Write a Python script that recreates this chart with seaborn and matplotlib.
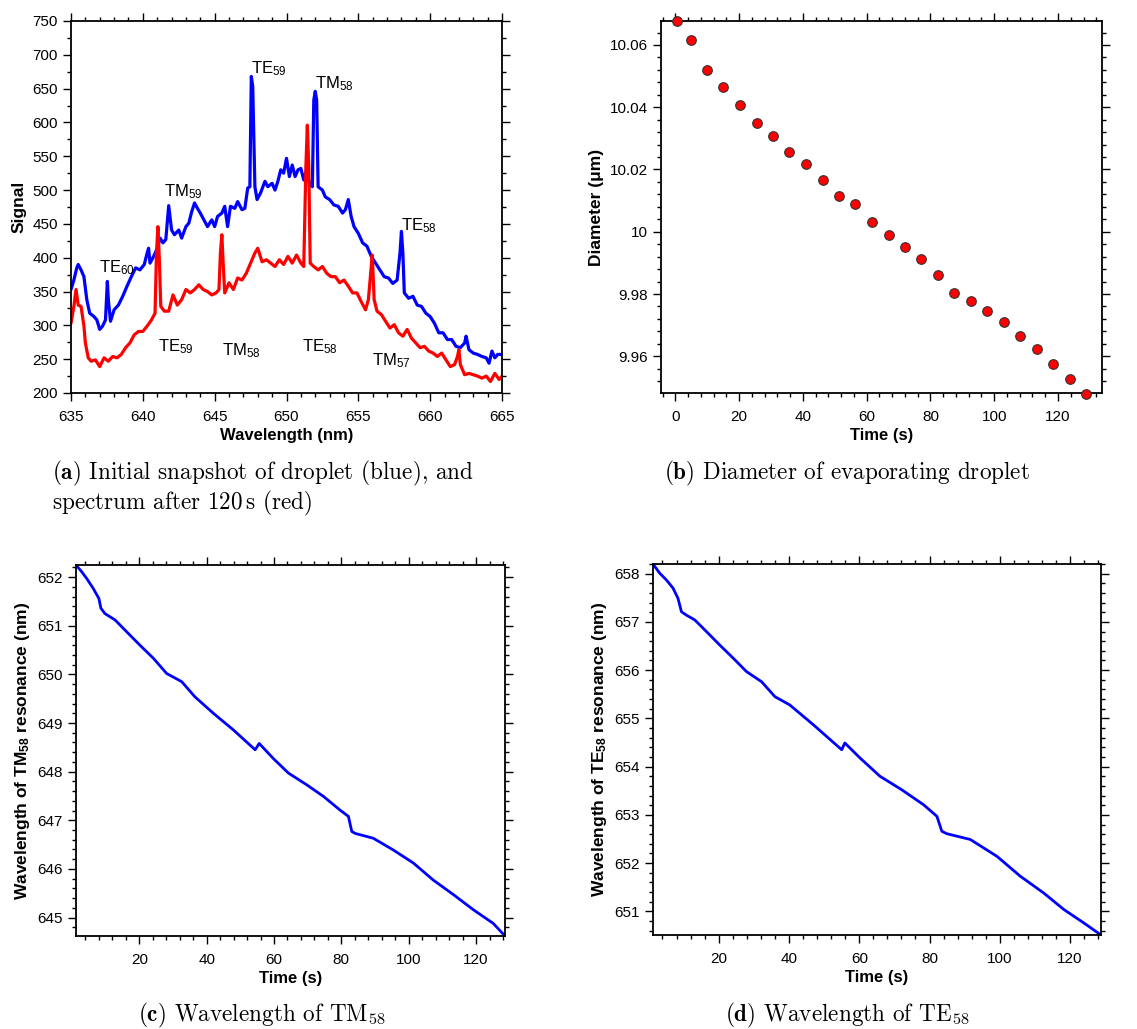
import numpy as np
import pandas as pd
import matplotlib
matplotlib.use("Agg")
import matplotlib.pyplot as plt
from matplotlib.ticker import MultipleLocator, FormatStrFormatter
import seaborn as sns

# ---------------- data ----------------
blue_wl = [635.0,635.2,635.4,635.5,635.7,635.9,636.1,636.3,636.6,636.8,637.0,637.2,637.4,637.53,637.6,637.75,638.0,638.3,638.6,638.9,
           639.2,639.5,639.8,640.1,640.3,640.4,640.5,640.8,641.0,641.2,641.4,641.6,641.8,642.0,642.2,642.5,642.7,643.0,643.2,643.4,
           643.6,643.8,644.0,644.3,644.5,644.8,645.0,645.2,645.5,645.7,645.9,646.1,646.4,646.6,646.9,647.1,647.3,647.45,647.55,647.65,
           647.8,647.95,648.2,648.5,648.7,649.0,649.2,649.4,649.6,649.8,650.0,650.2,650.4,650.6,650.8,651.0,651.2,651.4,651.6,651.8,
           651.9,652.0,652.1,652.2,652.5,652.7,653.0,653.3,653.6,653.9,654.1,654.3,654.5,654.7,655.0,655.3,655.6,655.9,656.2,656.5,
           656.8,657.1,657.4,657.7,657.9,658.0,658.1,658.2,658.5,658.8,659.1,659.4,659.7,660.0,660.3,660.6,660.9,661.2,661.5,661.8,
           662.1,662.4,662.5,662.7,663.0,663.3,663.6,663.9,664.1,664.3,664.5,664.7,665.0]
blue_sig = [353,367,385,390,382,372,338,318,313,308,294,299,308,365,338,306,323,330,343,358,
            372,385,382,390,407,414,392,404,414,429,422,427,477,441,434,441,429,446,451,468,
            481,473,466,454,446,456,446,461,466,476,446,476,473,483,471,473,503,505,668,653,
            505,486,496,513,505,510,500,513,530,525,547,520,537,520,530,532,515,530,510,505,
            633,646,633,505,500,490,486,478,476,466,471,486,461,446,436,422,417,402,392,382,
            372,370,362,367,407,439,407,348,340,343,330,328,318,313,303,289,289,279,279,269,
            267,274,284,264,259,257,254,252,244,262,252,257,257]

red_wl = [635.0,635.2,635.35,635.5,635.7,635.9,636.0,636.2,636.4,636.7,637.0,637.3,637.6,637.9,638.2,638.5,638.8,639.1,639.4,639.7,
          640.0,640.3,640.6,640.85,640.95,641.05,641.15,641.25,641.5,641.8,642.1,642.4,642.7,643.0,643.3,643.6,643.9,644.2,644.5,644.8,
          645.1,645.3,645.4,645.5,645.6,645.7,646.0,646.3,646.6,646.9,647.2,647.5,647.8,648.0,648.3,648.6,648.9,649.2,649.5,649.8,
          650.1,650.4,650.7,651.0,651.2,651.35,651.45,651.55,651.65,651.9,652.2,652.5,652.8,653.1,653.4,653.7,654.0,654.3,654.6,654.9,
          655.2,655.5,655.7,655.9,655.97,656.1,656.3,656.6,656.9,657.2,657.5,657.8,658.1,658.4,658.7,659.0,659.3,659.6,659.9,660.2,
          660.5,660.8,661.1,661.4,661.7,661.9,662.0,662.1,662.4,662.7,663.0,663.3,663.6,663.9,664.2,664.5,664.8,665.0]
red_sig = [303,328,353,330,328,299,274,252,247,249,239,252,247,254,252,257,267,274,286,291,
           291,299,308,318,407,446,397,328,321,321,345,330,338,353,348,353,360,353,350,345,
           348,353,407,434,388,348,363,353,370,367,377,392,407,414,394,397,392,387,397,390,
           402,392,404,392,387,535,596,535,392,387,382,387,377,372,372,363,367,358,348,348,
           335,323,338,387,404,338,321,316,306,296,301,289,284,294,281,274,267,269,262,259,
           254,259,249,239,242,254,264,242,227,229,227,225,222,225,217,229,220,225]

ann_text = ["TE$_{59}$", "TM$_{58}$", "TM$_{59}$", "TE$_{60}$", "TE$_{58}$",
            "TE$_{59}$", "TM$_{58}$", "TE$_{58}$", "TM$_{57}$"]
ann_x = [647.52, 651.97, 641.47, 636.97, 657.98, 641.07, 645.48, 651.11, 655.96]
ann_y = [680, 658, 498, 385, 447, 269, 263, 269, 248]

diam_t = [0.63,4.8,9.9,15.05,20.4,25.5,30.6,35.7,41.1,46.2,51.2,56.4,61.8,66.9,71.9,77.0,
          82.4,87.5,92.6,97.7,103.1,108.2,113.3,118.4,123.7,128.8]
diam_d = [10.0676,10.0616,10.0520,10.0466,10.0407,10.0349,10.0309,10.0257,10.0218,10.0166,
          10.0114,10.0088,10.0032,9.9988,9.9951,9.9911,9.9862,9.9804,9.9779,9.9746,9.9710,
          9.9665,9.9622,9.9576,9.9526,9.9480]

tm_t = [1.2,2.9,4.4,6.3,8.0,8.6,9.8,12.8,16.2,20.2,24.2,28.1,32.6,36.5,42.0,47.9,54.4,55.6,
        59.8,64.3,69.7,74.7,79.6,82.1,83.1,84.1,89.5,95.4,101.4,107.3,113.3,119.2,125.1,128.6]
tm_wl = [652.25,652.11,651.97,651.77,651.56,651.36,651.25,651.12,650.88,650.60,650.33,650.02,
         649.85,649.54,649.20,648.86,648.45,648.58,648.27,647.97,647.73,647.49,647.21,647.08,
         646.77,646.73,646.63,646.39,646.12,645.77,645.47,645.16,644.88,644.62]

te_t = [1.3,3.2,5.1,7.0,8.4,9.4,10.8,13.2,16.5,20.3,24.1,27.9,32.2,36.0,40.2,46.9,55.0,55.9,
        60.2,65.9,72.1,78.3,82.1,83.5,84.9,91.6,99.2,105.8,112.5,118.2,123.9,128.8]
te_wl = [658.20,658.01,657.87,657.70,657.49,657.21,657.14,657.04,656.80,656.52,656.25,655.97,
         655.76,655.45,655.28,654.87,654.35,654.49,654.18,653.80,653.52,653.21,652.97,652.66,
         652.61,652.49,652.14,651.73,651.38,651.04,650.76,650.51]

# ---------------- style ----------------
sns.set_theme(style="ticks")
plt.rcParams["font.family"] = ["Liberation Sans", "DejaVu Sans"]
plt.rcParams["mathtext.fontset"] = "custom"
plt.rcParams["mathtext.rm"] = "Liberation Sans"
plt.rcParams["mathtext.it"] = "Liberation Sans:italic"
plt.rcParams["mathtext.bf"] = "Liberation Sans:bold"
for k in ["text.color", "axes.labelcolor", "xtick.color", "ytick.color", "axes.edgecolor"]:
    plt.rcParams[k] = "black"

W, H = 1137, 1029
fig = plt.figure(figsize=(W / 100, H / 100), dpi=100)

def axes_px(l, r, t, b):
    return fig.add_axes([l / W, 1 - b / H, (r - l) / W, (b - t) / H])

TICK = 11
XLAB = 12
YLAB = 12.5

def style(ax):
    for s in ax.spines.values():
        s.set_linewidth(1.3)
        s.set_color("black")
        s.set_visible(True)
    ax.tick_params(which="both", direction="out", top=True, right=True,
                   colors="black", width=1.0, labelsize=TICK)
    ax.tick_params(which="major", length=5.8)
    ax.tick_params(which="minor", length=3.1)
    ax.tick_params(axis="x", which="major", pad=6.5)
    ax.tick_params(axis="y", which="major", pad=3.5)
    ax.set_facecolor("white")
    ax.grid(False)

# (a) spectrum
axa = axes_px(71, 502, 21, 393)
df_b = pd.DataFrame({"wl": blue_wl, "sig": blue_sig})
df_r = pd.DataFrame({"wl": red_wl, "sig": red_sig})
sns.lineplot(data=df_b, x="wl", y="sig", ax=axa, color="#0000ff", lw=2.3,
             estimator=None, sort=False)
sns.lineplot(data=df_r, x="wl", y="sig", ax=axa, color="#ff0000", lw=2.3,
             estimator=None, sort=False)
axa.set_xlim(635, 665)
axa.set_ylim(200, 750)
axa.xaxis.set_major_locator(MultipleLocator(5))
axa.xaxis.set_minor_locator(MultipleLocator(1))
axa.yaxis.set_major_locator(MultipleLocator(50))
axa.yaxis.set_minor_locator(MultipleLocator(25))
style(axa)
for t, x, y in zip(ann_text, ann_x, ann_y):
    axa.text(x, y, t, fontsize=12, ha="left", va="center", color="black")
axa.set_xlabel("Wavelength (nm)", fontsize=XLAB, fontweight="bold", labelpad=2.5)
axa.set_ylabel("Signal", fontsize=YLAB, fontweight="bold", labelpad=4)

# (b) diameter
axb = axes_px(661, 1102, 21, 393)
df_d = pd.DataFrame({"t": diam_t, "d": diam_d})
sns.scatterplot(data=df_d, x="t", y="d", ax=axb, color="#ff0000", s=48,
                edgecolor="#333333", linewidth=0.8, zorder=5)
for c in axb.collections:
    c.set_clip_on(False)
axb.set_xlim(-4.5, 133.8)
axb.set_ylim(9.9482, 10.0677)
axb.xaxis.set_major_locator(MultipleLocator(20))
axb.xaxis.set_minor_locator(MultipleLocator(4))
axb.yaxis.set_major_locator(MultipleLocator(0.02))
axb.yaxis.set_minor_locator(MultipleLocator(0.004))
axb.yaxis.set_major_formatter(FormatStrFormatter("%g"))
style(axb)
axb.set_xlabel("Time (s)", fontsize=XLAB, fontweight="bold", labelpad=2.5)
axb.set_ylabel("Diameter (μm)", fontsize=YLAB, fontweight="bold", labelpad=4)

# (c) TM58
axc = axes_px(76, 505, 565, 936)
df_c = pd.DataFrame({"t": tm_t, "wl": tm_wl})
sns.lineplot(data=df_c, x="t", y="wl", ax=axc, color="#0000ff", lw=2.0,
             estimator=None, sort=False)
axc.set_xlim(1.2, 128.6)
axc.set_ylim(644.62, 652.25)
axc.xaxis.set_major_locator(MultipleLocator(20))
axc.xaxis.set_minor_locator(MultipleLocator(4))
axc.yaxis.set_major_locator(MultipleLocator(1))
axc.yaxis.set_minor_locator(MultipleLocator(0.2))
style(axc)
axc.set_xlabel("Time (s)", fontsize=XLAB, fontweight="bold", labelpad=2.5)
axc.set_ylabel(r"Wavelength of TM$\mathbf{_{58}}$ resonance (nm)", fontsize=YLAB,
               fontweight="bold", labelpad=4)

# (d) TE58
axd = axes_px(653, 1101, 564, 935)
df_e = pd.DataFrame({"t": te_t, "wl": te_wl})
sns.lineplot(data=df_e, x="t", y="wl", ax=axd, color="#0000ff", lw=2.0,
             estimator=None, sort=False)
axd.set_xlim(1.3, 128.8)
axd.set_ylim(650.51, 658.2)
axd.xaxis.set_major_locator(MultipleLocator(20))
axd.xaxis.set_minor_locator(MultipleLocator(4))
axd.yaxis.set_major_locator(MultipleLocator(1))
axd.yaxis.set_minor_locator(MultipleLocator(0.2))
style(axd)
axd.set_xlabel("Time (s)", fontsize=XLAB, fontweight="bold", labelpad=2.5)
axd.set_ylabel(r"Wavelength of TE$\mathbf{_{58}}$ resonance (nm)", fontsize=YLAB,
               fontweight="bold", labelpad=4)

# captions
CAP = 16.7
def caption(x, y, s, ha="left"):
    fig.text(x / W, 1 - y / H, s, fontsize=CAP, family="cmr10", math_fontfamily="cm",
             ha=ha, va="center")

caption(52, 473, r"$\mathbf{(a)}$ Initial snapshot of droplet (blue), and")
caption(52, 503, r"spectrum after 120$\,$s (red)")
caption(847, 473, r"$\mathbf{(b)}$ Diameter of evaporating droplet", ha="center")
caption(262, 1015, r"$\mathbf{(c)}$ Wavelength of TM$_{58}$", ha="center")
caption(847, 1015, r"$\mathbf{(d)}$ Wavelength of TE$_{58}$", ha="center")

fig.savefig("out.png", dpi=100, facecolor="white")
